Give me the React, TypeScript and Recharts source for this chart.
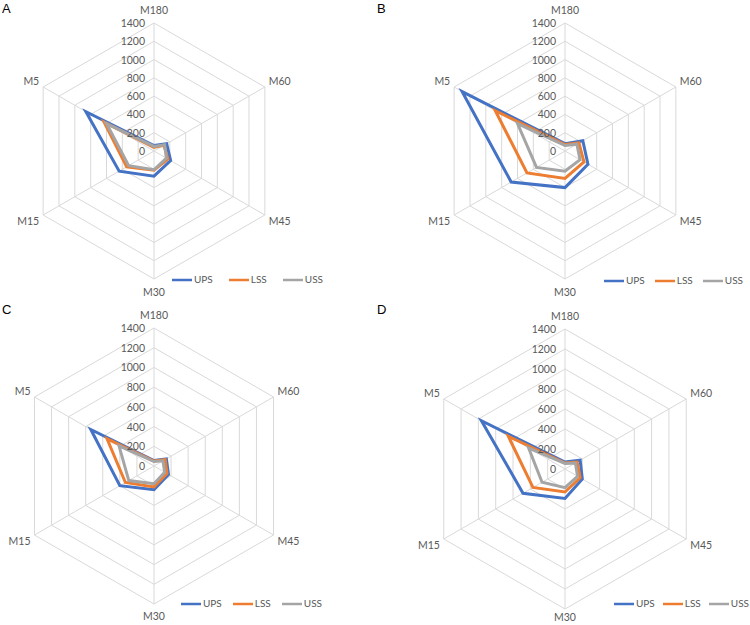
import React from "react";
import { Legend, PolarAngleAxis, PolarGrid, PolarRadiusAxis, Radar, RadarChart } from "recharts";

const categories = ["M180", "M60", "M45", "M30", "M15", "M5"];
const seriesNames = ["UPS", "LSS", "USS"];
const radiusTicks = [0, 200, 400, 600, 800, 1000, 1200, 1400];

// panel A
const upsA = [60, 160, 210, 275, 440, 860];
const lssA = [40, 126, 175, 211, 345, 630];
const ussA = [50, 135, 156, 205, 320, 600];
// panel B
const upsB = [80, 225, 290, 400, 680, 1300];
const lssB = [70, 175, 240, 300, 480, 880];
const ussB = [60, 150, 190, 220, 360, 600];
// panel C
const upsC = [55, 145, 170, 240, 400, 740];
const lssC = [50, 130, 152, 212, 335, 550];
const ussC = [45, 105, 125, 180, 295, 410];
// panel D
const upsD = [70, 175, 200, 295, 485, 965];
const lssD = [60, 140, 175, 230, 370, 655];
const ussD = [55, 120, 145, 186, 265, 420];

const FONT = "Lato, 'Noto Sans', sans-serif";
const TXT = "#595959";
const GRID = "#d9d9d9";

const buildRows = (ups: number[], lss: number[], uss: number[]) =>
  categories.map((c, i) => ({ axis: c, UPS: ups[i], LSS: lss[i], USS: uss[i] }));

const panels = [
  { label: "A", left: 0, top: 0, w: 375, h: 310, cx: 154, cy: 151, r: 128, legX: 172, legY: 270, gap: 16, bottomDy: 9, rows: buildRows(upsA, lssA, ussA) },
  { label: "B", left: 375, top: 0, w: 375, h: 310, cx: 190, cy: 151, r: 128, legX: 229, legY: 271, gap: 10, bottomDy: 9, rows: buildRows(upsB, lssB, ussB) },
  { label: "C", left: 0, top: 310, w: 375, h: 315, cx: 154, cy: 156, r: 138, legX: 181, legY: 284, gap: 11, bottomDy: 8, rows: buildRows(upsC, lssC, ussC) },
  { label: "D", left: 375, top: 310, w: 375, h: 315, cx: 190, cy: 159, r: 140, legX: 239, legY: 284, gap: 8, bottomDy: 4, rows: buildRows(upsD, lssD, ussD) },
];

function AngleTick(p: any) {
  const v = p.payload.value;
  let dy = 4;
  let dx = 0;
  if (v === "M180") dy = -1;
  else if (v === "M30") dy = p.bottomDy ?? 9;
  else if (v === "M60" || v === "M5") dy = 2;
  else dy = 6;
  if (p.textAnchor === "start") dx = -3;
  if (p.textAnchor === "end") dx = 3;
  return (
    <text x={p.x + dx} y={p.y + dy} textAnchor={p.textAnchor} fontSize={10.5} fontFamily={FONT} fill={TXT}>
      {v}
    </text>
  );
}

function RadiusTick(p: any) {
  return (
    <text x={p.x - 9} y={p.y + 4} textAnchor="end" fontSize={10.5} fontFamily={FONT} fill={TXT}>
      {p.payload.value}
    </text>
  );
}

function Panel({ pn }: { pn: (typeof panels)[number] }) {
  return (
    <div className={`panel-${pn.label}`} style={{ position: "absolute", left: pn.left, top: pn.top, width: pn.w, height: pn.h }}>
      <style>{`.panel-${pn.label} .recharts-legend-item { margin-right: ${pn.gap}px !important; }`}</style>
      <RadarChart
        width={pn.w}
        height={pn.h}
        data={pn.rows}
        cx={pn.cx}
        cy={pn.cy}
        outerRadius={pn.r}
        margin={{ top: 0, right: 0, bottom: 0, left: 0 }}
      >
        <PolarGrid stroke={GRID} />
        <PolarAngleAxis dataKey="axis" axisLine={false} tickLine={false} tick={<AngleTick bottomDy={pn.bottomDy} />} />
        <PolarRadiusAxis
          angle={90}
          domain={[0, 1400]}
          ticks={radiusTicks}
          tickCount={8}
          axisLine={false}
          tickLine={false}
          tick={<RadiusTick />}
        />
        <Radar dataKey="UPS" stroke="#4472C4" strokeWidth={3} fill="none" fillOpacity={0} dot={false} legendType="plainline" isAnimationActive={false} />
        <Radar dataKey="LSS" stroke="#ED7D31" strokeWidth={3} fill="none" fillOpacity={0} dot={false} legendType="plainline" isAnimationActive={false} />
        <Radar dataKey="USS" stroke="#A5A5A5" strokeWidth={3} fill="none" fillOpacity={0} dot={false} legendType="plainline" isAnimationActive={false} />
        <Legend
          verticalAlign="bottom"
          align="left"
          iconSize={20}
          itemSorter={(it: any) => seriesNames.indexOf(it.value)}
          wrapperStyle={{ left: pn.legX, top: pn.legY, width: 160, whiteSpace: "nowrap", fontFamily: FONT, fontSize: 10 }}
          formatter={(v: string) => <span style={{ color: TXT }}>{v}</span>}
        />
      </RadarChart>
      <div style={{ position: "absolute", left: 2, top: pn.label === "A" || pn.label === "B" ? 1 : -8, fontFamily: "'Liberation Sans', Arial, sans-serif", fontSize: 13, color: "#000" }}>
        {pn.label}
      </div>
    </div>
  );
}

export default function App() {
  return (
    <div style={{ position: "absolute", left: 0, top: 0, width: 750, height: 625, background: "#fff" }}>
      <style>{`.recharts-legend-wrapper .recharts-default-legend { text-align: left !important; } .recharts-legend-item svg { margin-right: 2px !important; }`}</style>
      {panels.map((pn) => (
        <Panel key={pn.label} pn={pn} />
      ))}
    </div>
  );
}
